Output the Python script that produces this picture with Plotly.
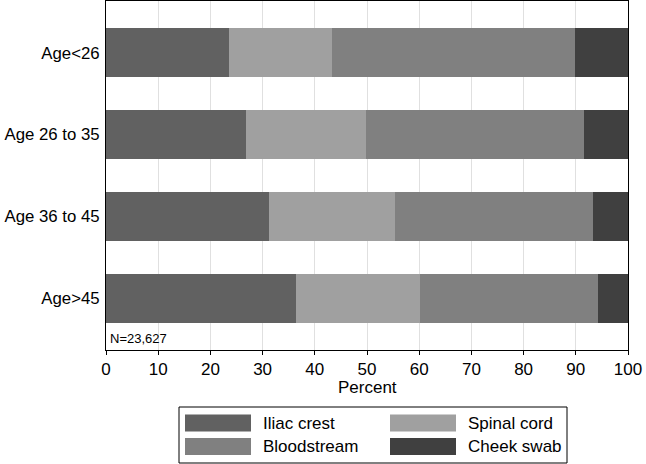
import plotly.graph_objects as go

categories = ["Age<26", "Age 26 to 35", "Age 36 to 45", "Age>45"]
series_names = ["Iliac crest", "Spinal cord", "Bloodstream", "Cheek swab"]
iliac = [23.6, 26.8, 31.2, 36.4]
spinal = [19.6, 23.0, 24.2, 23.7]
blood = [46.6, 41.8, 37.9, 34.2]
cheek = [10.2, 8.4, 6.7, 5.7]
colors = ["#616161", "#a0a0a0", "#808080", "#404040"]
x_ticks = [0, 10, 20, 30, 40, 50, 60, 70, 80, 90, 100]
x_title = "Percent"
note = "N=23,627"

FONT = "Liberation Sans, Arial, sans-serif"
fig = go.Figure()
for name, vals, col in zip(series_names, [iliac, spinal, blood, cheek], colors):
    fig.add_trace(go.Bar(y=categories, x=vals, name=name, orientation="h",
                         marker=dict(color=col, line=dict(width=0)), width=0.6,
                         showlegend=False))

fig.update_layout(
    barmode="stack", width=646, height=464,
    margin=dict(l=106, r=18, t=1, b=114),
    plot_bgcolor="white", paper_bgcolor="white",
    font=dict(family=FONT, color="black", size=17),
)
fig.update_xaxes(range=[0, 100], tickvals=x_ticks, showgrid=True, gridcolor="#e0e0e0",
                 gridwidth=1, ticks="outside", ticklen=4, tickcolor="black",
                 showline=True, linecolor="black", linewidth=1, mirror=True,
                 tickfont=dict(size=17), zeroline=False)
fig.update_yaxes(categoryorder="array", categoryarray=categories[::-1],
                 range=[-0.63, 3.63], showline=True, linecolor="black", linewidth=1,
                 mirror=True, ticks="", tickfont=dict(size=16.8), showgrid=False,
                 ticklabelstandoff=2)

# custom positions in pixel-based paper coordinates
pl, pr, pt, pb = 106, 628, 1, 350
def px(x):
    return (x - pl) / (pr - pl)
def py(y):
    return (pb - y) / (pb - pt)

fig.add_annotation(text=x_title, xref="paper", yref="paper", x=0.5, y=py(387),
                   xanchor="center", yanchor="middle", showarrow=False,
                   font=dict(size=17))
fig.add_annotation(text=note, x=0, y=0, xref="paper", yref="paper",
                   xanchor="left", yanchor="bottom", xshift=2, yshift=2,
                   showarrow=False, font=dict(size=13))

fig.add_shape(type="rect", xref="paper", yref="paper",
              x0=px(179), x1=px(567), y0=py(463), y1=py(407),
              line=dict(color="black", width=1), fillcolor="white")
positions = [(185, 423), (390, 423), (185, 446.5), (390, 446.5)]
for (sx, sy), name, col in zip(positions, series_names, colors):
    fig.add_shape(type="rect", xref="paper", yref="paper",
                  x0=px(sx), x1=px(sx + 66), y0=py(sy + 8.5), y1=py(sy - 8.5),
                  line=dict(width=0), fillcolor=col)
    fig.add_annotation(text=name, xref="paper", yref="paper", x=px(sx + 76), y=py(sy),
                       xanchor="left", yanchor="middle", showarrow=False,
                       font=dict(size=17))

fig.write_html("out.html")
